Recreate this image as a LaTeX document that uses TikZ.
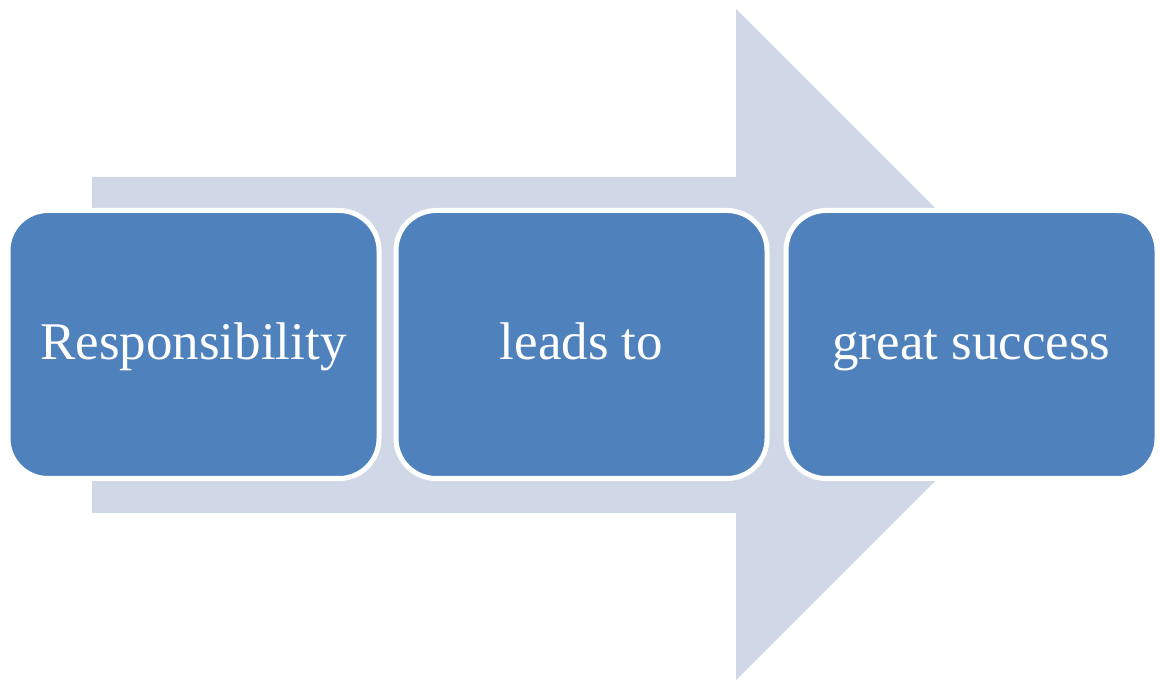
\documentclass[tikz,border=0pt]{standalone}
\usepackage{fontspec}
\setmainfont{Liberation Serif}
\begin{document}
\begin{tikzpicture}[x=1pt,y=-1pt]
\definecolor{boxblue}{HTML}{4F81BD}
\definecolor{arrowgray}{HTML}{D0D8E8}
\tikzset{
  stage/.style={draw=white, line width=5pt, fill=boxblue, rounded corners=40pt,
    minimum width=371pt, minimum height=268pt, text=white, inner sep=0pt,
    text height=31pt, text depth=0pt,
    font=\fontsize{53}{60}\selectfont, anchor=center},
  bigarrow/.style={fill=arrowgray}
}
\useasboundingbox (0,0) rectangle (1160,684);
\fill[bigarrow] (92,177) -- (736,177) -- (736,9) -- (1071.5,344.5) -- (736,680) -- (736,513) -- (92,513) -- cycle;
\node[stage] (a) at (193.5,344.5) {Responsibility};
\node[stage] (b) at (581.5,344.5) {leads to};
\node[stage] (c) at (971.5,344.5) {great success};
\end{tikzpicture}
\end{document}
